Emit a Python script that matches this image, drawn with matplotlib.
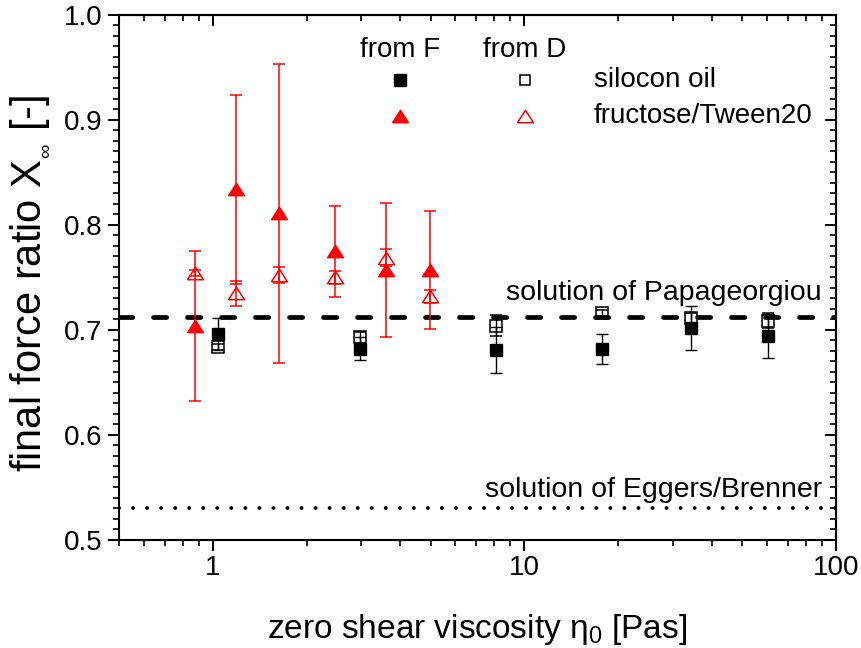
import numpy as np
import matplotlib
matplotlib.use("Agg")
import matplotlib.pyplot as plt
from matplotlib.ticker import MultipleLocator, LogLocator, NullFormatter

plt.rcParams['font.family'] = ['Liberation Sans', 'DejaVu Sans']
plt.rcParams['mathtext.fontset'] = 'custom'
plt.rcParams['mathtext.rm'] = 'Liberation Sans'
plt.rcParams['mathtext.default'] = 'regular'

# silicone oil: zero shear viscosity [Pas], final force ratio from F and from D
sil_eta = [1.04, 2.97, 8.11, 17.7, 34.2, 60.3]
sil_F = [0.696, 0.682, 0.681, 0.682, 0.702, 0.694]
sil_F_err = [0.015, 0.011, 0.022, 0.014, 0.021, 0.021]
sil_D = [0.684, 0.693, 0.704, 0.716, 0.711, 0.709]
sil_D_err = [0.003, 0.005, 0.010, 0.003, 0.005, 0.007]

# fructose/Tween20
fru_eta = [0.875, 1.19, 1.63, 2.47, 3.59, 4.99]
fru_F = [0.704, 0.834, 0.811, 0.775, 0.757, 0.757]
fru_F_err = [0.0715, 0.090, 0.142, 0.0435, 0.064, 0.056]
fru_D = [0.754, 0.735, 0.752, 0.750, 0.769, 0.732]
fru_D_err = [0.003, 0.012, 0.0075, 0.006, 0.008, 0.006]

# theoretical limits
papageorgiou = 0.7127
eggers_brenner = 0.5306

RED = '#ff0000'
FS = 20

# wide, flat triangle marker
tri = [(-1, -0.78), (1, -0.78), (0, 0.78), (-1, -0.78)]

fig = plt.figure(figsize=(8.61, 6.48), dpi=100)
ax = fig.add_axes([0.1382, 0.1667, 0.9710 - 0.1382, 0.9769 - 0.1667])

ax.axhline(papageorgiou, color='black', lw=3.4, linestyle=(0, (2.8, 4.4)),
           dash_capstyle='round', zorder=1)
ax.axhline(eggers_brenner, color='black', lw=2.8, linestyle=(0, (0.01, 3.6)),
           dash_capstyle='round', zorder=1)

ax.errorbar(sil_eta, sil_F, yerr=sil_F_err, fmt='s', ms=8.6, color='black',
            mfc='black', mec='black', ecolor='black', elinewidth=1.0,
            capsize=4.3, capthick=1.0, zorder=3)
ax.errorbar(sil_eta, sil_D, yerr=sil_D_err, fmt='s', ms=8.2, color='black',
            mfc='none', mec='black', mew=1.1, ecolor='black', elinewidth=1.0,
            capsize=4.3, capthick=1.0, zorder=3)
ax.errorbar(fru_eta, fru_F, yerr=fru_F_err, fmt='none', ecolor=RED,
            elinewidth=1.1, capsize=4.0, capthick=1.1, zorder=2)
ax.plot(fru_eta, fru_F, linestyle='none', marker=tri, ms=11.5, mfc=RED,
        mec=RED, zorder=3)
ax.errorbar(fru_eta, fru_D, yerr=fru_D_err, fmt='none', ecolor=RED,
            elinewidth=1.1, capsize=4.0, capthick=1.1, zorder=2)
ax.plot(fru_eta, fru_D, linestyle='none', marker=tri, ms=11.5, mfc='none',
        mec=RED, mew=1.1, zorder=3)

ax.text(90, papageorgiou + 0.016, 'solution of Papageorgiou', ha='right',
        va='baseline', fontsize=20.5)
ax.text(90, eggers_brenner + 0.010, 'solution of Eggers/Brenner', ha='right',
        va='baseline', fontsize=20.5)

# legend laid out as a small table: columns "from F" / "from D"
lx_F, lx_D, lx_txt = 0.392, 0.566, 0.662
ly_head, ly_sil, ly_fru = 0.933, 0.877, 0.808
ax.text(lx_F, ly_head, 'from F', transform=ax.transAxes, ha='center',
        va='center', fontsize=FS)
ax.text(lx_D, ly_head, 'from D', transform=ax.transAxes, ha='center',
        va='center', fontsize=FS)
ax.plot([lx_F], [ly_sil], 's', ms=8.0, color='black', transform=ax.transAxes)
ax.plot([lx_D], [ly_sil], 's', ms=7.6, mfc='none', mec='black', mew=1.1,
        transform=ax.transAxes)
ax.plot([lx_F], [ly_fru], linestyle='none', marker=tri, ms=11.5, mfc=RED,
        mec=RED, transform=ax.transAxes)
ax.plot([lx_D], [ly_fru], linestyle='none', marker=tri, ms=11.5, mfc='none',
        mec=RED, mew=1.1, transform=ax.transAxes)
ax.text(lx_txt, ly_sil, 'silocon oil', transform=ax.transAxes, ha='left',
        va='center', fontsize=FS)
ax.text(lx_txt, ly_fru, 'fructose/Tween20', transform=ax.transAxes, ha='left',
        va='center', fontsize=FS)

ax.set_xscale('log')
ax.set_xlim(0.5, 100)
ax.set_ylim(0.5, 1.0)
ax.yaxis.set_major_locator(MultipleLocator(0.1))
ax.yaxis.set_minor_locator(MultipleLocator(0.01))
ax.xaxis.set_minor_locator(LogLocator(base=10, subs=np.arange(2, 10)))
ax.xaxis.set_minor_formatter(NullFormatter())
ax.set_xticks([1, 10, 100])
ax.set_xticklabels(['1', '10', '100'])
ax.set_yticks([0.5, 0.6, 0.7, 0.8, 0.9, 1.0])
ax.set_yticklabels(['0.5', '0.6', '0.7', '0.8', '0.9', '1.0'])

for s in ax.spines.values():
    s.set_linewidth(1.5)

ax.tick_params(axis='both', which='major', labelsize=FS, width=1.4, length=8)
ax.tick_params(axis='both', which='minor', width=1.2, length=4.5)
ax.tick_params(axis='x', which='both', direction='out', top=False, pad=3)
ax.tick_params(axis='y', which='both', direction='out', right=False, pad=4)

# top and right axes carry inward ticks only
top = ax.secondary_xaxis('top')
top.tick_params(axis='x', which='major', direction='in', length=8, width=1.4,
                labeltop=False)
top.tick_params(axis='x', which='minor', direction='in', length=4.5, width=1.2)
top.xaxis.set_major_locator(LogLocator(base=10))
top.xaxis.set_minor_locator(LogLocator(base=10, subs=np.arange(2, 10)))
top.xaxis.set_major_formatter(NullFormatter())
top.xaxis.set_minor_formatter(NullFormatter())
right = ax.secondary_yaxis('right')
right.tick_params(axis='y', which='major', direction='in', length=8, width=1.4,
                  labelright=False)
right.tick_params(axis='y', which='minor', direction='in', length=4.5, width=1.2)
right.yaxis.set_major_locator(MultipleLocator(0.1))
right.yaxis.set_minor_locator(MultipleLocator(0.01))
right.yaxis.set_major_formatter(NullFormatter())
for sec in (top, right):
    for s in sec.spines.values():
        s.set_linewidth(1.5)

ax.set_xlabel('zero shear viscosity η$_0$ [Pas]', fontsize=24, labelpad=22)
ax.set_ylabel('final force ratio X$_{_{\\infty}}$ [-]', fontsize=30)
ax.yaxis.set_label_coords(-0.095, 0.488)

fig.savefig('out.png', dpi=100)
